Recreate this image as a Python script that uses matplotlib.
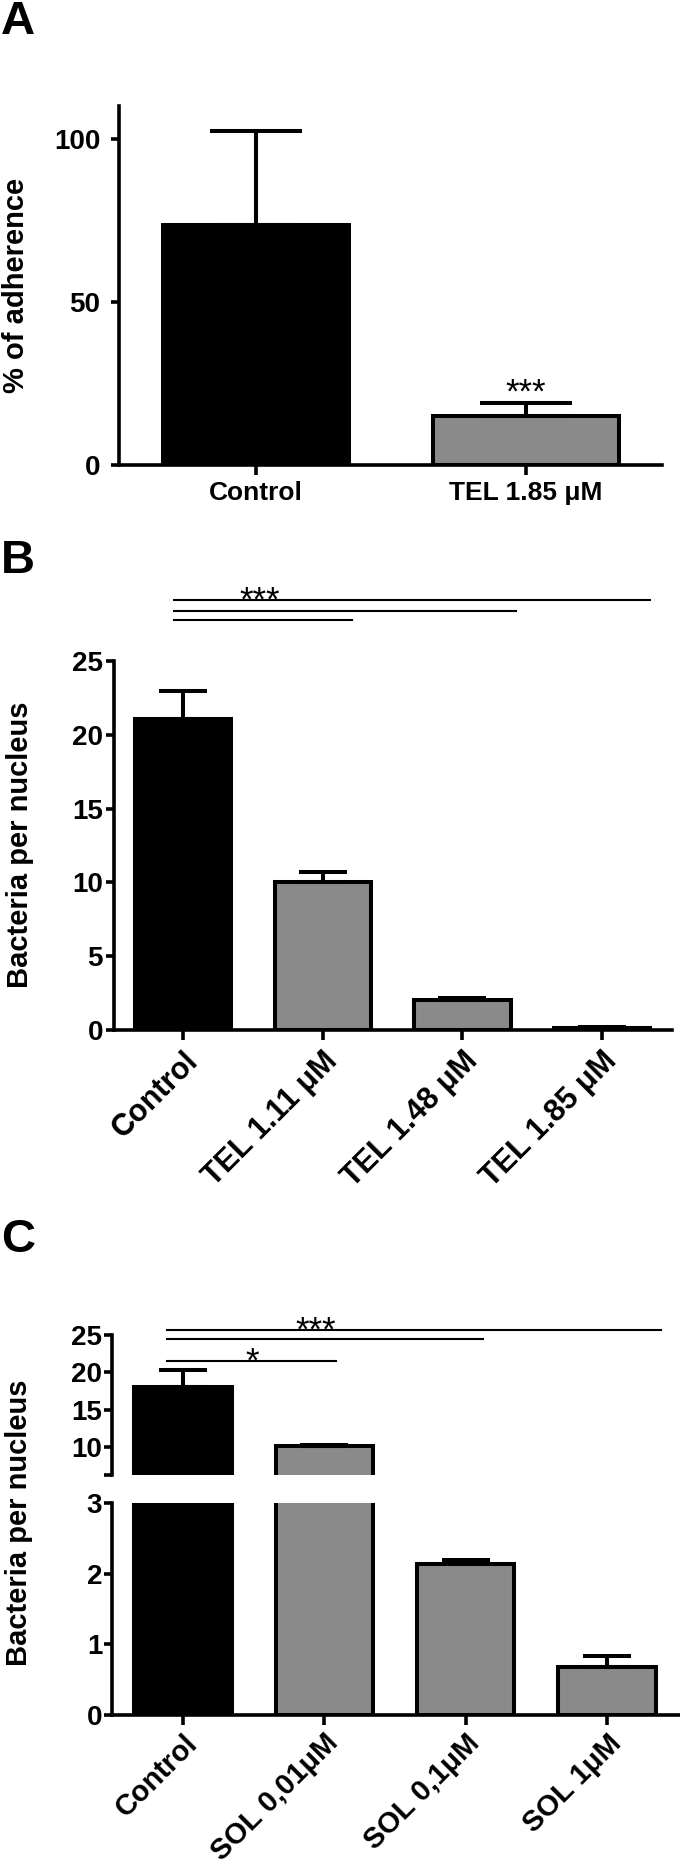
import numpy as np
import matplotlib
matplotlib.use("Agg")
import matplotlib.pyplot as plt

plt.rcParams['font.family'] = ['Liberation Sans', 'DejaVu Sans']

# panel A - % of adherence
a_labels = ["Control", "TEL 1.85 \u03bcM"]
a_means = [73.6, 15.0]
a_err = [28.8, 4.0]

# panel B - bacteria per nucleus (TEL)
b_labels = ["Control", "TEL 1.11 \u03bcM", "TEL 1.48 \u03bcM", "TEL 1.85 \u03bcM"]
b_means = [21.1, 10.0, 2.0, 0.15]
b_err = [1.9, 0.7, 0.2, 0.05]
b_sig_y = [27.8, 28.4, 29.1]
b_sig_end = [1.21, 2.38, 3.34]

# panel C - bacteria per nucleus (SOL), broken axis
c_labels = ["Control", "SOL 0,01\u03bcM", "SOL 0,1\u03bcM", "SOL 1\u03bcM"]
c_means = [18.1, 10.1, 2.13, 0.68]
c_err = [2.2, 0.2, 0.06, 0.16]
c_sig_y = [21.5, 24.5, 25.7]
c_sig_end = [1.08, 2.12, 3.38]

GRAY = '#8a8a8a'
W, H = 680, 1866
fig = plt.figure(figsize=(W / 100, H / 100), dpi=100)


def px_axes(l, t, r, b):
    return fig.add_axes([l / W, 1 - b / H, (r - l) / W, (b - t) / H])


def style(ax, ypad, xsize, xpad=4):
    for s in ['top', 'right']:
        ax.spines[s].set_visible(False)
    ax.spines['left'].set_linewidth(2.6)
    ax.spines['bottom'].set_linewidth(2.6)
    ax.tick_params(axis='y', width=2.6, length=6, labelsize=20, pad=ypad)
    ax.tick_params(axis='x', width=2.6, length=7.5, labelsize=xsize, pad=xpad)
    ax.set_facecolor('none')


def draw_bars(ax, means, err, ppu):
    x = np.arange(len(means))
    cols = ['black'] + [GRAY] * (len(means) - 1)
    ax.bar(x, means, width=0.69, color=cols, edgecolor='black', linewidth=2.9, zorder=2)
    cap = 0.17 * ppu * 0.72
    ax.errorbar(x, means, yerr=[np.zeros(len(means)), err], fmt='none', ecolor='black',
                elinewidth=2.9, capsize=cap, capthick=2.9, zorder=3)


def bold_labels(ax):
    for lab in ax.get_xticklabels() + ax.get_yticklabels():
        lab.set_fontweight('bold')


# ---- A ----
axA = px_axes(119, 106, 662, 465)
style(axA, 7.5, 19)
draw_bars(axA, a_means, a_err, 270)
axA.set_xlim(-0.507, 1.504)
axA.set_ylim(0, 110)
axA.set_yticks([0, 50, 100])
axA.set_xticks([0, 1])
axA.set_xticklabels(a_labels)
bold_labels(axA)
axA.text(1, a_means[1] + a_err[1], '***', ha='center', va='baseline', fontsize=25)

# ---- B ----
axB = px_axes(114, 661, 672, 1030)
style(axB, 2, 22)
draw_bars(axB, b_means, b_err, 139.7)
axB.set_xlim(-0.494, 3.50)
axB.set_ylim(0, 25)
axB.set_yticks([0, 5, 10, 15, 20, 25])
axB.set_xticks(range(len(b_labels)))
axB.set_xticklabels(b_labels, rotation=45, ha='right', va='top', rotation_mode='anchor')
bold_labels(axB)
for yy, xe in zip(b_sig_y, b_sig_end):
    axB.plot([-0.064, xe], [yy, yy], color='black', lw=1.5, clip_on=False)
axB.text(0.55, b_sig_y[1], '***', ha='center', va='baseline', fontsize=25)

# ---- C (broken y axis) ----
c_lo = 6.25
axCt = px_axes(112, 1335, 679, 1475)
axCb = px_axes(112, 1503, 679, 1715)
for ax in (axCt, axCb):
    style(ax, 1, 21, 2.5)
    draw_bars(ax, c_means, c_err, 141.3)
    ax.set_xlim(-0.502, 3.51)
axCt.set_ylim(c_lo, 25)
axCt.set_yticks([c_lo, 10, 15, 20, 25])
axCt.set_yticklabels(['', '10', '15', '20', '25'])
axCt.spines['bottom'].set_visible(False)
axCt.set_xticks([])
axCb.set_ylim(0, 3)
axCb.set_yticks([0, 1, 2, 3])
axCb.set_xticks(range(len(c_labels)))
axCb.set_xticklabels(c_labels, rotation=45, ha='right', va='top', rotation_mode='anchor')
bold_labels(axCt)
bold_labels(axCb)
for yy, xe in zip(c_sig_y, c_sig_end):
    axCt.plot([-0.113, xe], [yy, yy], color='black', lw=1.5, clip_on=False)
axCt.text(0.94, 24.2, '***', ha='center', va='baseline', fontsize=25)
axCt.text(0.49, 20.1, '*', ha='center', va='baseline', fontsize=25)

# axis titles and panel letters
fig.text(16 / W, 1 - 285 / H, '% of adherence', rotation=90, ha='center', va='center',
         fontsize=21, fontweight='bold')
fig.text(20 / W, 1 - 845 / H, 'Bacteria per nucleus', rotation=90, ha='center', va='center',
         fontsize=21, fontweight='bold')
fig.text(19 / W, 1 - 1523 / H, 'Bacteria per nucleus', rotation=90, ha='center', va='center',
         fontsize=21, fontweight='bold')
for letter, base in [('A', 34), ('B', 573), ('C', 1252)]:
    fig.text(1 / W, 1 - base / H, letter, ha='left', va='baseline', fontsize=34, fontweight='bold')

fig.savefig('out.png', dpi=100)
